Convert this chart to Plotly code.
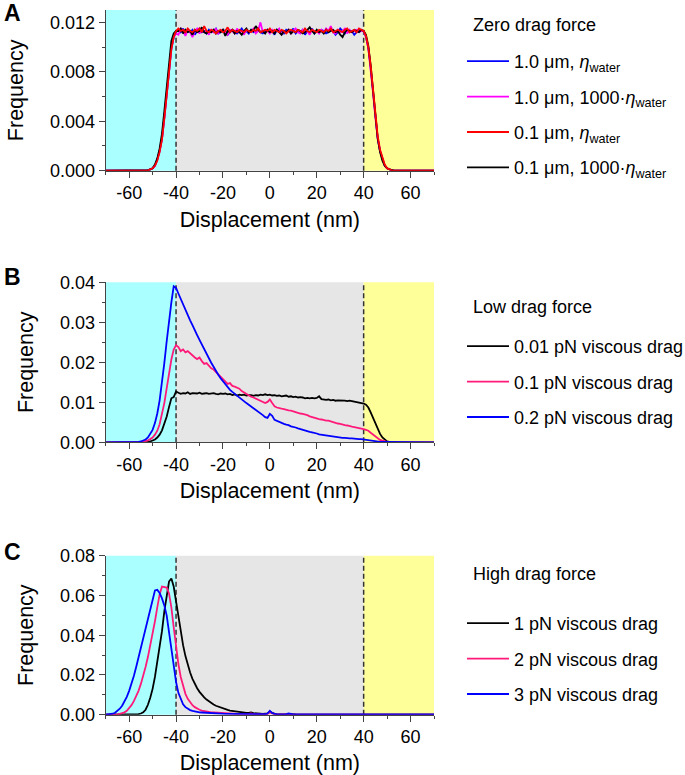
import plotly.graph_objects as go

FONT = "Liberation Sans, Arial, Helvetica, sans-serif"

# ---------------- Panel A : zero drag force ----------------
xa = [-70] + list(range(-53, 54)) + [70]

a_blue = [0,
    0, 0.00003, 0.0001, 0.0002, 0.0004, 0.0009, 0.0016, 0.0026, 0.0043, 0.0063, 0.0083, 0.0099, 0.0108, 0.0112,
    0.0114, 0.0112, 0.0115, 0.0111, 0.0113, 0.0112, 0.0114, 0.0110, 0.0113, 0.0115,
    0.0112, 0.0113, 0.0111, 0.0114, 0.0112, 0.0113, 0.0115, 0.0111, 0.0112, 0.0114,
    0.0113, 0.0110, 0.0112, 0.0114, 0.0113, 0.0111, 0.0113, 0.0115, 0.0112, 0.0113,
    0.0111, 0.0114, 0.0112, 0.0113, 0.0115, 0.0112, 0.0111, 0.0113, 0.0114, 0.0112,
    0.0113, 0.0110, 0.0114, 0.0112, 0.0113, 0.0111, 0.0114, 0.0113, 0.0112, 0.0115,
    0.0111, 0.0113, 0.0112, 0.0114, 0.0110, 0.0113, 0.0112, 0.0115, 0.0111, 0.0113,
    0.0112, 0.0114, 0.0113, 0.0111, 0.0112, 0.0114, 0.0113, 0.0110, 0.0112, 0.0115,
    0.0113, 0.0111, 0.0114, 0.0112, 0.0113, 0.0110, 0.0112, 0.0114, 0.0113,
    0.0113, 0.0108, 0.0099, 0.0083, 0.0063, 0.0043, 0.0026, 0.0016, 0.0009, 0.0004, 0.0002, 0.0001, 0.00003, 0,
    0]

a_magenta = [0,
    0, 0.00003, 0.0001, 0.0002, 0.0004, 0.0009, 0.0016, 0.0026, 0.0043, 0.0063, 0.0083, 0.0099, 0.0108, 0.0111,
    0.0110, 0.0115, 0.0113, 0.0109, 0.0114, 0.0112, 0.0108, 0.0113, 0.0115, 0.0111,
    0.0114, 0.0112, 0.0113, 0.0110, 0.0114, 0.0112, 0.0115, 0.0111, 0.0113, 0.0114,
    0.0112, 0.0110, 0.0114, 0.0113, 0.0111, 0.0115, 0.0112, 0.0113, 0.0110, 0.0114,
    0.0112, 0.0113, 0.0115, 0.0111, 0.0113, 0.0120, 0.0112, 0.0114, 0.0113, 0.0111,
    0.0114, 0.0112, 0.0113, 0.0115, 0.0110, 0.0113, 0.0112, 0.0114, 0.0111, 0.0113,
    0.0115, 0.0112, 0.0111, 0.0114, 0.0112, 0.0113, 0.0110, 0.0114, 0.0112, 0.0113,
    0.0111, 0.0114, 0.0112, 0.0115, 0.0113, 0.0117, 0.0112, 0.0111, 0.0114, 0.0112,
    0.0113, 0.0115, 0.0111, 0.0114, 0.0112, 0.0113, 0.0114, 0.0112, 0.0113,
    0.0113, 0.0108, 0.0099, 0.0083, 0.0063, 0.0043, 0.0026, 0.0016, 0.0009, 0.0004, 0.0002, 0.0001, 0.00003, 0,
    0]

a_red = [0,
    0, 0.00003, 0.0001, 0.0002, 0.0004, 0.0008, 0.0015, 0.0025, 0.0042, 0.0062, 0.0082, 0.0098, 0.0108, 0.0113,
    0.0115, 0.0113, 0.0114, 0.0112, 0.0115, 0.0113, 0.0112, 0.0114, 0.0113, 0.0115,
    0.0112, 0.0117, 0.0113, 0.0112, 0.0114, 0.0113, 0.0111, 0.0113, 0.0114, 0.0112,
    0.0113, 0.0116, 0.0112, 0.0114, 0.0113, 0.0112, 0.0114, 0.0113, 0.0112, 0.0114,
    0.0113, 0.0112, 0.0114, 0.0113, 0.0115, 0.0112, 0.0113, 0.0114, 0.0113, 0.0115,
    0.0112, 0.0114, 0.0113, 0.0112, 0.0114, 0.0113, 0.0111, 0.0113, 0.0114, 0.0113,
    0.0112, 0.0114, 0.0113, 0.0112, 0.0115, 0.0113, 0.0112, 0.0114, 0.0113, 0.0112,
    0.0114, 0.0113, 0.0112, 0.0114, 0.0113, 0.0115, 0.0112, 0.0113, 0.0114, 0.0113,
    0.0112, 0.0114, 0.0115, 0.0112, 0.0113, 0.0114, 0.0112, 0.0115, 0.0114,
    0.0113, 0.0109, 0.0100, 0.0085, 0.0065, 0.0045, 0.0028, 0.0017, 0.0010, 0.0005, 0.0002, 0.0001, 0.00003, 0,
    0]

a_black = [0,
    0, 0.00004, 0.0001, 0.0002, 0.0005, 0.0010, 0.0018, 0.0030, 0.0048, 0.0069, 0.0090, 0.0105, 0.0111, 0.0113,
    0.0113, 0.0115, 0.0111, 0.0114, 0.0112, 0.0113, 0.0110, 0.0114, 0.0112, 0.0113,
    0.0116, 0.0112, 0.0111, 0.0113, 0.0112, 0.0114, 0.0111, 0.0113, 0.0112, 0.0114,
    0.0109, 0.0113, 0.0112, 0.0114, 0.0111, 0.0113, 0.0112, 0.0110, 0.0113, 0.0115,
    0.0112, 0.0114, 0.0113, 0.0117, 0.0114, 0.0112, 0.0113, 0.0111, 0.0114, 0.0112,
    0.0113, 0.0111, 0.0114, 0.0112, 0.0110, 0.0113, 0.0112, 0.0114, 0.0111, 0.0113,
    0.0112, 0.0114, 0.0113, 0.0111, 0.0112, 0.0114, 0.0116, 0.0113, 0.0111, 0.0114,
    0.0112, 0.0113, 0.0111, 0.0114, 0.0112, 0.0113, 0.0114, 0.0112, 0.0113, 0.0110,
    0.0108, 0.0112, 0.0114, 0.0113, 0.0112, 0.0114, 0.0113, 0.0112, 0.0114,
    0.0113, 0.0110, 0.0101, 0.0085, 0.0064, 0.0043, 0.0026, 0.0015, 0.0008, 0.0004, 0.0002, 0.0001, 0.00003, 0,
    0]

# ---------------- Panel B : low drag force ----------------
xb = [-70] + list(range(-58, 55)) + [70]

b_blue = [0,
    0, 0, 0.0001, 0.0002, 0.0004, 0.0007, 0.0012, 0.0020, 0.0031, 0.0048,
    0.0072, 0.0105, 0.0148, 0.0198, 0.0252, 0.0305, 0.0350, 0.0390, 0.0386, 0.0372,
    0.0358, 0.0345, 0.0330, 0.0318, 0.0305, 0.0293, 0.0282, 0.0268, 0.0256, 0.0244,
    0.0232, 0.0220, 0.0209, 0.0199, 0.0189, 0.0178, 0.0169, 0.0160, 0.0152, 0.0145,
    0.0138, 0.0131, 0.0126, 0.0121, 0.0116, 0.0111, 0.0106, 0.0102, 0.0098, 0.0094,
    0.0090, 0.0086, 0.0082, 0.0078, 0.0074, 0.0068, 0.0063, 0.0061, 0.0071, 0.0066,
    0.0056, 0.0053, 0.0050, 0.0048, 0.0046, 0.0044, 0.0043, 0.0040, 0.0039, 0.0037,
    0.0035, 0.0033, 0.0032, 0.0030, 0.0028, 0.0026, 0.0025, 0.0024, 0.0022, 0.0020,
    0.0019, 0.0018, 0.0017, 0.0016, 0.0015, 0.0014, 0.0013, 0.0012, 0.0012, 0.0011,
    0.0011, 0.0010, 0.0010, 0.0010, 0.0009, 0.0009, 0.0008, 0.0008, 0.0007, 0.0006,
    0.0005, 0.0004, 0.0003, 0.0002, 0.0002, 0.0001, 0.0001, 0.0001, 0, 0,
    0, 0, 0,
    0]

b_pink = [0,
    0, 0, 0, 0.0001, 0.0002, 0.0003, 0.0005, 0.0008, 0.0012, 0.0019,
    0.0029, 0.0045, 0.0068, 0.0098, 0.0135, 0.0172, 0.0207, 0.0232, 0.0243, 0.0238,
    0.0228, 0.0232, 0.0225, 0.0228, 0.0222, 0.0218, 0.0212, 0.0208, 0.0212, 0.0203,
    0.0196, 0.0198, 0.0190, 0.0185, 0.0182, 0.0176, 0.0168, 0.0162, 0.0156, 0.0150,
    0.0146, 0.0148, 0.0141, 0.0139, 0.0136, 0.0134, 0.0128, 0.0124, 0.0121, 0.0118,
    0.0114, 0.0112, 0.0109, 0.0106, 0.0102, 0.0100, 0.0098, 0.0101, 0.0107, 0.0098,
    0.0090, 0.0087, 0.0085, 0.0084, 0.0083, 0.0081, 0.0080, 0.0079, 0.0077, 0.0075,
    0.0074, 0.0072, 0.0071, 0.0070, 0.0068, 0.0065, 0.0063, 0.0061, 0.0060, 0.0058,
    0.0057, 0.0055, 0.0054, 0.0054, 0.0052, 0.0050, 0.0048, 0.0047, 0.0046, 0.0044,
    0.0043, 0.0042, 0.0040, 0.0039, 0.0038, 0.0037, 0.0036, 0.0034, 0.0033, 0.0031,
    0.0029, 0.0024, 0.0019, 0.0014, 0.0010, 0.0006, 0.0004, 0.0002, 0.0001, 0,
    0, 0, 0,
    0]

b_black = [0,
    0, 0, 0, 0, 0, 0, 0.0001, 0.0002, 0.0004, 0.0007,
    0.0012, 0.0019, 0.0030, 0.0045, 0.0064, 0.0088, 0.0110, 0.0113, 0.0127, 0.0124,
    0.0121, 0.0123, 0.0122, 0.0125, 0.0121, 0.0123, 0.0122, 0.0122, 0.0124, 0.0121,
    0.0122, 0.0123, 0.0121, 0.0122, 0.0123, 0.0121, 0.0120, 0.0122, 0.0121, 0.0122,
    0.0120, 0.0121, 0.0118, 0.0120, 0.0117, 0.0119, 0.0118, 0.0119, 0.0117, 0.0118,
    0.0118, 0.0116, 0.0118, 0.0117, 0.0119, 0.0118, 0.0120, 0.0118, 0.0119, 0.0117,
    0.0118, 0.0116, 0.0117, 0.0115, 0.0116, 0.0117, 0.0114, 0.0115, 0.0113, 0.0114,
    0.0112, 0.0113, 0.0112, 0.0110, 0.0111, 0.0110, 0.0111, 0.0110, 0.0111, 0.0115,
    0.0108, 0.0107, 0.0106, 0.0107, 0.0105, 0.0106, 0.0104, 0.0105, 0.0105, 0.0104,
    0.0104, 0.0103, 0.0104, 0.0103, 0.0102, 0.0101, 0.0100, 0.0098, 0.0097, 0.0094,
    0.0087, 0.0075, 0.0061, 0.0046, 0.0033, 0.0021, 0.0012, 0.0006, 0.0002, 0.0001,
    0, 0, 0,
    0]

# ---------------- Panel C : high drag force ----------------
xc = list(range(-70, 21)) + [30, 40, 50, 60, 70]

c_black = [
    0, 0, 0, 0, 0, 0, 0, 0, 0, 0,
    0.0001, 0.0001, 0.0002, 0.0002, 0.0003, 0.0006, 0.0012, 0.0025, 0.0050, 0.0085,
    0.0130, 0.0190, 0.0260, 0.0330, 0.0420, 0.0520, 0.0600, 0.0670, 0.0685, 0.0645,
    0.0570, 0.0490, 0.0415, 0.0350, 0.0295, 0.0250, 0.0212, 0.0180, 0.0155, 0.0133,
    0.0115, 0.0100, 0.0087, 0.0076, 0.0066, 0.0058, 0.0051, 0.0045, 0.0040, 0.0035,
    0.0031, 0.0027, 0.0024, 0.0021, 0.0019, 0.0017, 0.0015, 0.0013, 0.0011, 0.0010,
    0.0009, 0.0009, 0.0012, 0.0008, 0.0006, 0.0005, 0.0005, 0.0004, 0.0004, 0.0006,
    0.0015, 0.0008, 0.0004, 0.0003, 0.0003, 0.0002, 0.0002, 0.0003, 0.0005, 0.0003,
    0.0002, 0.0001, 0.0001, 0.0001, 0.0001, 0.0001, 0.0001, 0.0001, 0.0001, 0,
    0,
    0, 0, 0, 0, 0]

c_pink = [
    0, 0, 0, 0, 0, 0.0002, 0.0004, 0.0007, 0.0012, 0.0020,
    0.0032, 0.0048, 0.0068, 0.0092, 0.0120, 0.0155, 0.0195, 0.0240, 0.0290, 0.0345,
    0.0405, 0.0470, 0.0540, 0.0605, 0.0645, 0.0643, 0.0640, 0.0610, 0.0540, 0.0440,
    0.0340, 0.0255, 0.0190, 0.0140, 0.0105, 0.0080, 0.0062, 0.0048, 0.0038, 0.0030,
    0.0025, 0.0021, 0.0018, 0.0016, 0.0014, 0.0012, 0.0011, 0.0010, 0.0009, 0.0008,
    0.0007, 0.0006, 0.0006, 0.0005, 0.0005, 0.0004, 0.0004, 0.0004, 0.0003, 0.0003,
    0.0003, 0.0004, 0.0006, 0.0003, 0.0002, 0.0002, 0.0002, 0.0002, 0.0002, 0.0004,
    0.0012, 0.0005, 0.0002, 0.0002, 0.0001, 0.0001, 0.0001, 0.0002, 0.0003, 0.0002,
    0.0001, 0.0001, 0.0001, 0, 0, 0, 0, 0, 0, 0,
    0,
    0, 0, 0, 0, 0]

c_blue = [
    0, 0.0001, 0.0002, 0.0005, 0.0010, 0.0018, 0.0030, 0.0045, 0.0065, 0.0090,
    0.0120, 0.0155, 0.0195, 0.0240, 0.0290, 0.0340, 0.0390, 0.0440, 0.0490, 0.0540,
    0.0590, 0.0625, 0.0628, 0.0612, 0.0585, 0.0550, 0.0500, 0.0420, 0.0330, 0.0240,
    0.0165, 0.0110, 0.0075, 0.0052, 0.0038, 0.0029, 0.0023, 0.0019, 0.0016, 0.0014,
    0.0012, 0.0011, 0.0010, 0.0009, 0.0008, 0.0007, 0.0007, 0.0006, 0.0006, 0.0005,
    0.0005, 0.0004, 0.0004, 0.0004, 0.0003, 0.0003, 0.0003, 0.0003, 0.0003, 0.0003,
    0.0003, 0.0003, 0.0004, 0.0003, 0.0002, 0.0002, 0.0002, 0.0002, 0.0003, 0.0006,
    0.0020, 0.0008, 0.0003, 0.0002, 0.0002, 0.0002, 0.0002, 0.0003, 0.0006, 0.0003,
    0.0002, 0.0002, 0.0001, 0.0001, 0.0001, 0.0001, 0.0001, 0.0001, 0.0001, 0.0001,
    0.0001,
    0.0001, 0.0001, 0.0001, 0.0001, 0.0001]

for xs, ys in [(xa, a_blue), (xa, a_magenta), (xa, a_red), (xa, a_black),
               (xb, b_blue), (xb, b_pink), (xb, b_black),
               (xc, c_black), (xc, c_pink), (xc, c_blue)]:
    assert len(xs) == len(ys), (len(xs), len(ys))

# axis ticks
x_tickvals = [-60, -40, -20, 0, 20, 40, 60]
x_ticktext = ["-60", "-40", "-20", "0", "20", "40", "60"]
y_tickvals = [[0, 0.004, 0.008, 0.012], [0, 0.01, 0.02, 0.03, 0.04], [0, 0.02, 0.04, 0.06, 0.08]]
y_ticktext = [["0.000", "0.004", "0.008", "0.012"],
              ["0.00", "0.01", "0.02", "0.03", "0.04"],
              ["0.00", "0.02", "0.04", "0.06", "0.08"]]
yranges = [[0, 0.013], [0, 0.04], [0, 0.08]]
yminor = [0.002, 0.005, 0.01]

# region boundaries (nm) and colours
region_edges = [-70, -40, 40, 70]
region_colors = ["#aaffff", "#e6e6e6", "#ffff99"]
wall_positions = [-40, 40]

ETA = "<i>η</i><sub>water</sub>"
BLUE, MAGENTA, RED, BLACK, PINK = "#0000ff", "#ff00ff", "#ff0000", "#000000", "#ff1a7a"

fig = go.Figure()

def add(x, y, name, color, ax, legend, rank):
    xr = "x" if ax == 1 else f"x{ax}"
    yr = "y" if ax == 1 else f"y{ax}"
    fig.add_trace(go.Scatter(x=x, y=y, mode="lines", name=name,
                             line=dict(color=color, width=1.8),
                             xaxis=xr, yaxis=yr, legend=legend,
                             legendrank=rank, legendgroup=name + legend))

# Panel A (draw order: red on top)
add(xa, a_blue, "1.0 μm, " + ETA, BLUE, 1, "legend", 1)
add(xa, a_magenta, "1.0 μm, 1000·" + ETA, MAGENTA, 1, "legend", 2)
add(xa, a_black, "0.1 μm, 1000·" + ETA, BLACK, 1, "legend", 4)
add(xa, a_red, "0.1 μm, " + ETA, RED, 1, "legend", 3)
# Panel B
add(xb, b_black, "0.01 pN viscous drag", BLACK, 2, "legend2", 1)
add(xb, b_pink, "0.1 pN viscous drag", PINK, 2, "legend2", 2)
add(xb, b_blue, "0.2 pN viscous drag", BLUE, 2, "legend2", 3)
# Panel C
add(xc, c_black, "1 pN viscous drag", BLACK, 3, "legend3", 1)
add(xc, c_pink, "2 pN viscous drag", PINK, 3, "legend3", 2)
add(xc, c_blue, "3 pN viscous drag", BLUE, 3, "legend3", 3)

W, H = 685, 775
xdom = [105.7 / W, 434 / W]
ydoms = [[1 - 170.7 / H, 1 - 10 / H],
         [1 - 442.3 / H, 1 - 282.3 / H],
         [1 - 714.7 / H, 1 - 555.7 / H]]

AX = "#444444"
layout = dict(width=W, height=H, margin=dict(l=0, r=0, t=0, b=0, autoexpand=False),
              paper_bgcolor="white", plot_bgcolor="white",
              font=dict(family=FONT, size=18, color="black"),
              showlegend=True)

for i in range(3):
    sfx = "" if i == 0 else str(i + 1)
    layout["xaxis" + sfx] = dict(
        domain=xdom, anchor="y" + sfx, range=[-70, 70],
        tickmode="array", tickvals=x_tickvals, ticktext=x_ticktext,
        ticks="outside", ticklen=6, tickwidth=1, tickcolor=AX,
        showline=True, linecolor=AX, linewidth=1, showgrid=False, zeroline=False,
        minor=dict(tick0=0, dtick=10, ticks="outside", ticklen=3, tickcolor=AX, showgrid=False),
        tickfont=dict(size=18, family=FONT), ticklabelstandoff=0,
        title=dict(text="Displacement (nm)", font=dict(size=21.5, family=FONT), standoff=9),
        automargin=False, fixedrange=True)
    layout["yaxis" + sfx] = dict(
        domain=ydoms[i], anchor="x" + sfx, range=yranges[i],
        tickmode="array", tickvals=y_tickvals[i], ticktext=y_ticktext[i],
        ticks="outside", ticklen=6, tickwidth=1, tickcolor=AX,
        showline=True, linecolor=AX, linewidth=1, showgrid=False, zeroline=False,
        minor=dict(tick0=0, dtick=yminor[i], ticks="outside", ticklen=3, tickcolor=AX, showgrid=False),
        tickfont=dict(size=18, family=FONT), ticklabelstandoff=0,
        title=dict(text="Frequency", font=dict(size=21.5, family=FONT), standoff=20),
        automargin=False, fixedrange=True)

legend_titles = ["Zero drag force", "Low drag force", "High drag force"]
legend_title_y = [25, 307, 574]
legend_tops = [43, 328, 605]
legend_gaps = [9, 9, 9]
for i, key in enumerate(["legend", "legend2", "legend3"]):
    layout[key] = dict(x=462 / W, y=1 - legend_tops[i] / H, xanchor="left", yanchor="top",
                       bgcolor="rgba(0,0,0,0)", borderwidth=0,
                       font=dict(size=18, family=FONT), itemwidth=42,
                       tracegroupgap=legend_gaps[i], itemclick=False, itemdoubleclick=False)

shapes = []
for i in range(3):
    sfx = "" if i == 0 else str(i + 1)
    for j, col in enumerate(region_colors):
        shapes.append(dict(type="rect", xref="x" + sfx, yref="y" + sfx + " domain",
                           x0=region_edges[j], x1=region_edges[j + 1], y0=0, y1=1,
                           fillcolor=col, line=dict(width=0), layer="below"))
    for xw in wall_positions:
        shapes.append(dict(type="line", xref="x" + sfx, yref="y" + sfx + " domain",
                           x0=xw, x1=xw, y0=0, y1=1,
                           line=dict(color="#333333", width=1.5, dash="5px,3px"), layer="below"))
layout["shapes"] = shapes

letters = ["A", "B", "C"]
letter_y = [13, 277, 552]
annotations = [dict(text=f"<b>{letters[i]}</b>", x=2 / W, y=1 - letter_y[i] / H,
                    xref="paper", yref="paper", xanchor="left", yanchor="middle",
                    showarrow=False, font=dict(size=23, family=FONT, color="black"))
               for i in range(3)]
annotations += [dict(text=legend_titles[i], x=471 / W, y=1 - legend_title_y[i] / H,
                     xref="paper", yref="paper", xanchor="left", yanchor="middle",
                     showarrow=False, font=dict(size=18, family=FONT, color="black"))
                for i in range(3)]
layout["annotations"] = annotations

fig.update_layout(**layout)
fig.write_html("out.html", config={"displayModeBar": False},
               post_script="document.body.style.margin='0px';")
